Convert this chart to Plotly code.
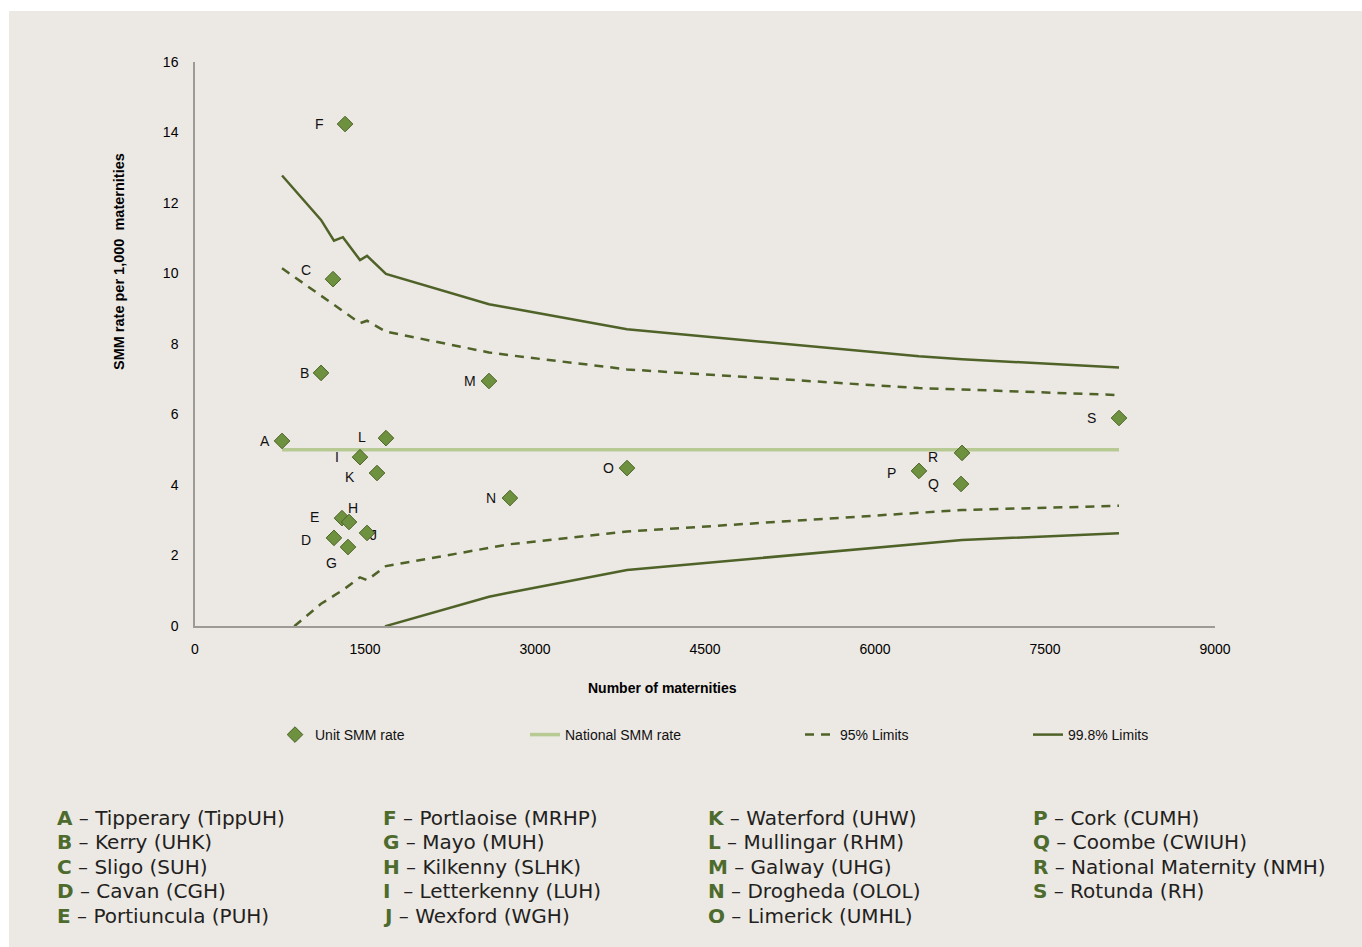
import plotly.graph_objects as go

# Unit-level SMM rates (per 1,000 maternities) against annual maternities
unit_codes = ["A", "B", "C", "D", "E", "F", "G", "H", "I", "J",
              "K", "L", "M", "N", "O", "P", "Q", "R", "S"]
unit_maternities = [768, 1112, 1218, 1226, 1297, 1324, 1350, 1359, 1456, 1518,
                    1606, 1685, 2594, 2779, 3812, 6388, 6759, 6768, 8153]
unit_rates = [5.25, 7.18, 9.84, 2.50, 3.06, 14.24, 2.24, 2.95, 4.79, 2.64,
              4.34, 5.33, 6.95, 3.63, 4.48, 4.40, 4.03, 4.91, 5.90]

unit_names = [
    "Tipperary (TippUH)", "Kerry (UHK)", "Sligo (SUH)", "Cavan (CGH)",
    "Portiuncula (PUH)", "Portlaoise (MRHP)", "Mayo (MUH)", "Kilkenny (SLHK)",
    "Letterkenny (LUH)", "Wexford (WGH)", "Waterford (UHW)", "Mullingar (RHM)",
    "Galway (UHG)", "Drogheda (OLOL)", "Limerick (UMHL)", "Cork (CUMH)",
    "Coombe (CWIUH)", "National Maternity (NMH)", "Rotunda (RH)",
]

# National rate and funnel control limits
national_rate = 5.0
national_span = [768, 8153]
limit_maternities = [768, 1112, 1226, 1305, 1456, 1518, 1685, 2594, 2779, 3812, 6388, 6768, 8153]
upper_998 = [12.78, 11.52, 10.93, 11.03, 10.38, 10.50, 9.99, 9.13, 9.02, 8.42, 7.65, 7.57, 7.33]
upper_95 = [10.15, 9.36, 9.10, 8.94, 8.59, 8.66, 8.35, 7.76, 7.68, 7.28, 6.75, 6.71, 6.55]
lower_95 = [-0.30, 0.63, 0.86, 1.02, 1.38, 1.30, 1.70, 2.22, 2.32, 2.68, 3.22, 3.29, 3.41]
lower_998 = [-2.50, -1.90, -1.50, -1.30, -0.90, -0.80, 0.00, 0.83, 0.95, 1.59, 2.33, 2.44, 2.63]

x_ticks = [0, 1500, 3000, 4500, 6000, 7500, 9000]
y_ticks = [0, 2, 4, 6, 8, 10, 12, 14, 16]

# Styling
BG = "#ECE8E4"
DARK = "#4F6228"
NATIONAL = "#B7CA93"
MARKER_FILL = "#6E9140"
MARKER_EDGE = "#4A6325"
KEY_GREEN = "#4E6B2E"
AXIS_FONT = "Liberation Sans, Arial, sans-serif"
KEY_FONT = "DejaVu Sans, Noto Sans, sans-serif"

# label offsets (pixels) for the point letters
label_offsets = {
    "A": (-17, 0), "B": (-17, 0), "C": (-27, 9), "D": (-28, -2), "E": (-27, 1),
    "F": (-26, 0), "G": (-17, -16), "H": (4, 14), "I": (-23, 0), "J": (6, -2),
    "K": (-27, -4), "L": (-24, 1), "M": (-19, 0), "N": (-19, 0), "O": (-19, 0),
    "P": (-27, -2), "Q": (-28, 0), "R": (-29, -4), "S": (-28, 0),
}


def px_x(p):
    return (p - 195) / 1020


def px_y(p):
    return (626 - p) / 564


fig = go.Figure()

fig.add_trace(go.Scatter(
    x=limit_maternities, y=upper_998, mode="lines", name="99.8% Limits",
    line=dict(color=DARK, width=2.5), legend="legend4",
))
fig.add_trace(go.Scatter(
    x=limit_maternities, y=lower_998, mode="lines", name="99.8% Limits",
    line=dict(color=DARK, width=2.5), showlegend=False,
))
fig.add_trace(go.Scatter(
    x=limit_maternities, y=upper_95, mode="lines", name="95% Limits",
    line=dict(color=DARK, width=2.5, dash="9px,7px"), legend="legend3",
))
fig.add_trace(go.Scatter(
    x=limit_maternities, y=lower_95, mode="lines", name="95% Limits",
    line=dict(color=DARK, width=2.5, dash="9px,7px"), showlegend=False,
))
fig.add_trace(go.Scatter(
    x=national_span, y=[national_rate, national_rate], mode="lines",
    name="National SMM rate", line=dict(color=NATIONAL, width=3.5),
    legend="legend2",
))
fig.add_trace(go.Scatter(
    x=unit_maternities, y=unit_rates, mode="markers", name="Unit SMM rate",
    marker=dict(symbol="diamond", size=12, color=MARKER_FILL,
                line=dict(color=MARKER_EDGE, width=1)),
    legend="legend",
))

annotations = []
for code, xv, yv in zip(unit_codes, unit_maternities, unit_rates):
    dx, dy = label_offsets[code]
    annotations.append(dict(
        x=xv, y=yv, xref="x", yref="y", text=code, showarrow=False,
        xshift=dx, yshift=dy, font=dict(family=AXIS_FONT, size=14, color="#111111"),
    ))

# Axis titles
annotations.append(dict(
    x=px_x(119), y=px_y(262), xref="paper", yref="paper",
    xanchor="center", yanchor="middle",
    text="<b>SMM rate per 1,000  maternities</b>", textangle=-90, showarrow=False,
    font=dict(family=AXIS_FONT, size=14.5, color="#000000"),
))
annotations.append(dict(
    x=px_x(662), y=px_y(688), xref="paper", yref="paper",
    xanchor="center", yanchor="middle",
    text="<b>Number of maternities</b>", showarrow=False,
    font=dict(family=AXIS_FONT, size=14, color="#000000"),
))

# Unit key below the chart: four columns of five
col_px = [55, 381, 706, 1031]
row_px = [818, 842, 867, 891, 916]
for i, (code, name) in enumerate(zip(unit_codes, unit_names)):
    col, row = divmod(i, 5)
    gap = "  " if code == "I" else " "
    annotations.append(dict(
        x=px_x(col_px[col]), y=px_y(row_px[row]),
        xref="paper", yref="paper", xanchor="left", yanchor="middle",
        text=f"<b><span style='color:{KEY_GREEN}'>{code}</span></b>{gap}– {name}",
        showarrow=False, font=dict(family=KEY_FONT, size=20, color="#231F20"),
    ))

legend_style = dict(orientation="h", yanchor="middle", xanchor="left",
                    bgcolor="rgba(0,0,0,0)", font=dict(family=AXIS_FONT, size=14, color="#111111"),
                    itemwidth=30)
legend_y = px_y(735)

fig.update_layout(
    width=1362, height=947,
    margin=dict(l=195, r=147, t=62, b=321),
    paper_bgcolor="white",
    plot_bgcolor="rgba(0,0,0,0)",
    showlegend=True,
    legend=dict(x=px_x(275), y=legend_y, **legend_style),
    legend2=dict(x=px_x(525), y=legend_y, **legend_style),
    legend3=dict(x=px_x(800), y=legend_y, **legend_style),
    legend4=dict(x=px_x(1028), y=legend_y, **legend_style),
    annotations=annotations,
    shapes=[dict(
        type="rect", xref="paper", yref="paper", layer="below",
        x0=px_x(9), x1=px_x(1372), y0=px_y(950), y1=px_y(11),
        fillcolor=BG, line=dict(width=0),
    )],
    xaxis=dict(
        range=[0, 9000], tickvals=x_ticks, ticktext=[str(v) for v in x_ticks],
        showgrid=False, zeroline=False, showline=True, linecolor="#9E9A96", linewidth=1.5,
        ticks="", ticklabelstandoff=9,
        tickfont=dict(family=AXIS_FONT, size=14, color="#000000"),
    ),
    yaxis=dict(
        range=[0, 16], tickvals=y_ticks, ticktext=[str(v) for v in y_ticks],
        showgrid=False, zeroline=False, showline=True, linecolor="#9E9A96", linewidth=1.5,
        ticks="", ticklabelstandoff=12,
        tickfont=dict(family=AXIS_FONT, size=14, color="#000000"),
    ),
)

fig.write_html("out.html")
